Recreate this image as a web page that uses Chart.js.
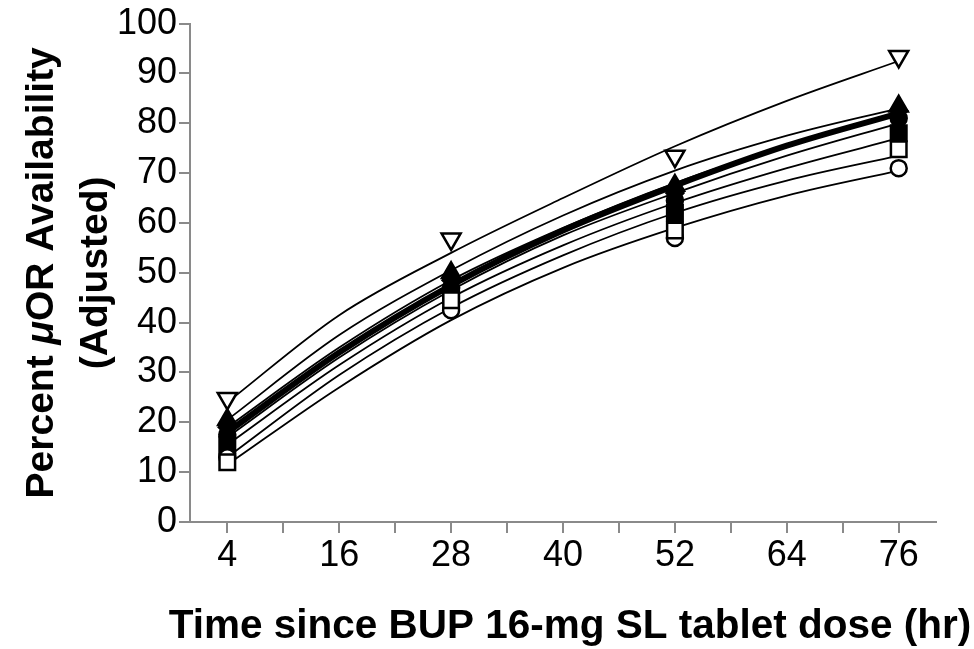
<!DOCTYPE html>
<html>
<head>
<meta charset="utf-8">
<script src="https://cdn.jsdelivr.net/npm/chart.js@4.4.1/dist/chart.umd.min.js"></script>
<style>
  html, body { margin: 0; padding: 0; background: #fff; }
  #wrap { width: 974px; height: 649px; }
</style>
</head>
<body>
<div id="wrap"><canvas id="chart" width="974" height="649"></canvas></div>
<script>
// measured time points (hr)
const times = [4, 28, 52, 76]
const curveTimes = [4, 16, 28, 40, 52, 64, 76]
// x axis tick positions and labelled ticks
const xTicks = [4, 10, 16, 22, 28, 34, 40, 46, 52, 58, 64, 70, 76]
const xLabels = [4, 16, 28, 40, 52, 64, 76]

// markers (percent availability)
const openTriDown = [24.8, 56.8, 73.4, 93.4]
const filledTri = [20.5, 50, 67.5, 83.4]
const filledDiamond = [19, 48.5, 66, 82.5]
const filledCircle = [17.5, 47, 64.5, 81]
const filledSquare = [15.5, 45.5, 62, 78]
const openSquare = [12, 44.5, 58.5, 74.8]
const openCircle = [13, 42.5, 57, 71]

// fitted curves
const fitTriDown = [24, 41.5, 54, 65, 75.4, 84.5, 92.5]
const fitTri = [20.5, 37.5, 50.5, 61.5, 70.5, 77.5, 83]
const fitDiamond = [19, 35, 48.5, 59, 68, 75.5, 82]
const fitCircle = [17, 33, 46.5, 57.5, 66, 73.5, 80]
const fitSquare = [15.5, 31.5, 45, 55.5, 64, 71, 77]
const fitOpenSquare = [13, 29.5, 43, 53.5, 62, 68.5, 73.5]
const fitOpenCircle = [11.5, 27, 40.5, 51, 59, 65.5, 70.5]
const fitMean = [18, 34, 47.5, 58.5, 67.5, 75.5, 82]

// axis titles (the mu is set in italic)
const yTitle1 = ['Percent ', 'μ', 'OR Availability']
const yTitle2 = '(Adjusted)'
const xTitle = 'Time since BUP 16-mg SL tablet dose (hr)'

const axisGray = '#8a8a8a'
const fonte = 'Liberation Sans, Arial, Helvetica, sans-serif'

function pts(xs, ys) {
  return xs.map((x, i) => ({ x, y: ys[i] }))
}

function curva(valores, largura) {
  return {
    data: pts(curveTimes, valores),
    showLine: true,
    borderColor: '#000',
    borderWidth: largura,
    pointRadius: 0,
    cubicInterpolationMode: 'monotone',
    order: 2
  }
}

function marcador(valores, estilo, aberto, raio, rot) {
  return {
    data: pts(times, valores),
    showLine: false,
    pointStyle: estilo,
    pointRadius: raio,
    pointRotation: rot || 0,
    pointBackgroundColor: aberto ? '#fff' : '#000',
    pointBorderColor: '#000',
    pointBorderWidth: 2.5,
    order: aberto ? 0 : 1
  }
}

const datasets = [
  curva(fitTriDown, 1.8),
  curva(fitTri, 1.8),
  curva(fitDiamond, 1.8),
  curva(fitCircle, 1.8),
  curva(fitSquare, 1.8),
  curva(fitOpenSquare, 1.8),
  curva(fitOpenCircle, 1.8),
  curva(fitMean, 6),
  marcador(filledTri, 'triangle', false, 10.5),
  marcador(filledDiamond, 'rectRot', false, 8.5),
  marcador(filledCircle, 'circle', false, 8),
  marcador(filledSquare, 'rect', false, 11),
  marcador(openSquare, 'rect', true, 11),
  marcador(openCircle, 'circle', true, 8),
  marcador(openTriDown, 'triangle', true, 11, 180)
]

// títulos dos eixos desenhados à mão (mu em itálico, sem compressão)
const titulos = {
  id: 'titulos',
  afterDraw(chart) {
    const ctx = chart.ctx
    const area = chart.chartArea
    const cy = (area.top + area.bottom) / 2
    const normal = `bold 39px ${fonte}`
    const italico = `italic bold 39px ${fonte}`
    ctx.save()
    ctx.fillStyle = '#000'
    ctx.textBaseline = 'middle'
    ctx.textAlign = 'left'

    ctx.font = normal
    const w0 = ctx.measureText(yTitle1[0]).width
    const w2 = ctx.measureText(yTitle1[2]).width
    ctx.font = italico
    const w1 = ctx.measureText(yTitle1[1]).width
    const total = w0 + w1 + w2

    ctx.save()
    ctx.translate(42, cy)
    ctx.rotate(-Math.PI / 2)
    let x = -total / 2
    ctx.font = normal
    ctx.fillText(yTitle1[0], x, 0)
    x += w0
    ctx.font = italico
    ctx.fillText(yTitle1[1], x, 0)
    x += w1
    ctx.font = normal
    ctx.fillText(yTitle1[2], x, 0)
    ctx.textAlign = 'center'
    ctx.fillText(yTitle2, 0, 54)
    ctx.restore()

    ctx.font = `bold 40.5px ${fonte}`
    ctx.textAlign = 'center'
    ctx.fillText(xTitle, 570, 627)
    ctx.restore()
  }
}

new Chart(document.getElementById('chart'), {
  type: 'scatter',
  data: { datasets },
  plugins: [titulos],
  options: {
    responsive: false,
    animation: false,
    layout: { padding: { left: 0, top: 22, right: 38, bottom: 0 } },
    plugins: { legend: { display: false }, tooltip: { enabled: false } },
    scales: {
      x: {
        type: 'linear',
        min: 0,
        max: 80,
        afterBuildTicks: s => { s.ticks = xTicks.map(v => ({ value: v })) },
        afterFit: s => { s.height = 127 },
        border: { color: axisGray, width: 2 },
        grid: { drawOnChartArea: false, color: axisGray, lineWidth: 2, tickLength: 11 },
        ticks: {
          autoSkip: false,
          maxRotation: 0,
          padding: 1,
          color: '#000',
          font: { family: fonte, size: 36 },
          callback: v => xLabels.includes(v) ? String(v) : ''
        }
      },
      y: {
        min: 0,
        max: 100,
        afterFit: s => { s.width = 190 },
        border: { color: axisGray, width: 2 },
        grid: { drawOnChartArea: false, color: axisGray, lineWidth: 2, tickLength: 11 },
        ticks: {
          stepSize: 10,
          padding: 2,
          color: '#000',
          font: { family: fonte, size: 36 }
        }
      }
    }
  }
})
</script>
</body>
</html>
